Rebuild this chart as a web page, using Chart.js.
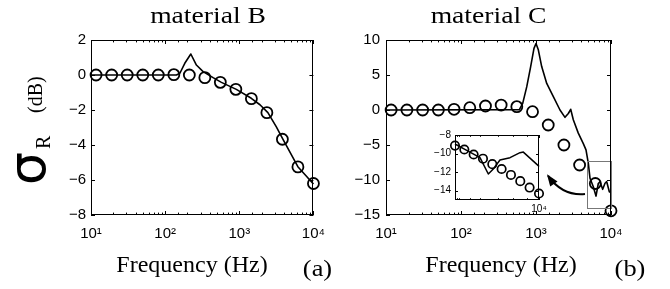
<!DOCTYPE html>
<html>
<head>
<meta charset="utf-8">
<script src="https://cdn.jsdelivr.net/npm/chart.js@4.4.0/dist/chart.umd.min.js"></script>
<style>
html, body { margin: 0; padding: 0; background: #fff; }
#wrap { position: relative; width: 670px; height: 289px; overflow: hidden; }
canvas { position: absolute; }
#chB { left: 0; top: 0; }
#chC { left: 335px; top: 0; }
#chIn { left: 420px; top: 125px; }
</style>
</head>
<body>
<div id="wrap">
  <canvas id="chB" width="335" height="289"></canvas>
  <canvas id="chC" width="335" height="289"></canvas>
  <canvas id="chIn" width="130" height="95"></canvas>
</div>
<script>
// circle (measured) frequencies, same for both materials
const freqCircles = [11.7, 19.0, 30.8, 49.9, 80.8, 131, 212, 343, 555, 899, 1456, 2356, 3814, 6176, 10000];

// material B
const circlesB = [0, 0, 0, 0, 0, 0.02, 0, -0.15, -0.42, -0.82, -1.35, -2.15, -3.67, -5.25, -6.2];
const freqLineB = [10, 100, 142, 158, 184, 222, 264, 325, 443, 574, 912, 1452, 1900, 2431, 3148, 3870, 6166, 10000];
const lineB = [0, 0, 0, 0.1, 0.67, 1.2, 0.57, 0.19, -0.15, -0.42, -0.82, -1.33, -1.7, -2.15, -2.95, -3.67, -5.24, -6.23];

// material C
const circlesC = [0, 0, 0, 0, 0.1, 0.33, 0.57, 0.71, 0.48, -0.24, -2.14, -5.0, -7.86, -10.5, -14.4];
const freqLineC = [10, 600, 665, 752, 849, 940, 1000, 1074, 1191, 1390, 1703, 2089, 2436, 2697, 2901, 3143, 3664, 4274, 4642, 4980, 5250, 5808, 6310, 6770, 7130, 7745, 8318, 8770, 9500, 10000];
const lineC = [0, 0.05, 0.95, 3.3, 6.2, 8.8, 9.5, 8.6, 6.2, 3.8, 1.9, 0, -1.05, -0.5, 0.1, -1.4, -3.3, -4.8, -5.7, -7.6, -9.76, -10.96, -12.3, -10.5, -10.24, -11.33, -10.47, -10.24, -11.67, -11.8];

// inset (zoom of 5-10 kHz for material C)
const freqInset = [4830, 5237, 5677, 6155, 6673, 7234, 7843, 8503, 9218, 10000];
const circlesInset = [-9.14, -9.56, -10.1, -10.55, -11.14, -11.66, -12.3, -12.97, -13.66, -14.3];
const freqInsetLine = [4830, 5346, 5998, 6446, 6729, 7131, 7780, 8484, 8730, 9935, 10000];
const lineInset = [-8.97, -9.66, -10.44, -12.2, -11.66, -10.7, -10.44, -9.9, -9.84, -11.3, -11.4];

const ticksB = [2, 0, -2, -4, -6, -8];
const ticksC = [10, 5, 0, -5, -10, -15];
const ticksInset = [-8, -10, -12, -14];

// box around the zoomed region + arrow, in data units of chart C
const zoomBoxX = [4830, 10000];
const zoomBoxY = [-7.3, -14.05];
const arrowPath = [[4500, -12], [2250, -12.3], [1450, -9.4]];

const sup = {1: '\u00b9', 2: '\u00b2', 3: '\u00b3', 4: '\u2074'};
const serif = '"Liberation Serif", "Times New Roman", serif';
const sans = '"Liberation Sans", Arial, sans-serif';

function pts(xs, ys) { return xs.map((x, i) => ({x: x, y: ys[i]})); }
function isDecade(v) { const e = Math.log10(v); return Math.abs(e - Math.round(e)) < 1e-9; }
function decadeLabel(v) { return isDecade(v) ? '10' + sup[Math.round(Math.log10(v))] : ''; }
function minusLabel(v) { return v < 0 ? '\u2212' + Math.abs(v) : String(v); }

// matlab style frame: full box, ticks pointing inwards on all four sides
const matlabBox = {
    id: 'matlabBox',
    beforeDraw(chart, args, opts) {
        if (!opts.fill) return;
        const a = chart.chartArea, ctx = chart.ctx;
        ctx.save();
        ctx.fillStyle = '#fff';
        ctx.fillRect(a.left, a.top, a.right - a.left, a.bottom - a.top);
        ctx.restore();
    },
    afterDraw(chart, args, opts) {
        const ctx = chart.ctx, a = chart.chartArea;
        const sx = chart.scales.x, sy = chart.scales.y;
        const L = opts.len || 4;
        ctx.save();
        ctx.strokeStyle = '#000';
        ctx.lineWidth = 1;
        ctx.beginPath();
        sx.ticks.forEach(t => {
            if (t.value < sx.min * 0.999 || t.value > sx.max * 1.001) return;
            const p = Math.round(sx.getPixelForValue(t.value)) + 0.5;
            const l = isDecade(t.value) ? L : L * 0.6;
            ctx.moveTo(p, a.bottom); ctx.lineTo(p, a.bottom - l);
            ctx.moveTo(p, a.top); ctx.lineTo(p, a.top + l);
        });
        sy.ticks.forEach(t => {
            const p = Math.round(sy.getPixelForValue(t.value)) + 0.5;
            ctx.moveTo(a.left, p); ctx.lineTo(a.left + L, p);
            ctx.moveTo(a.right, p); ctx.lineTo(a.right - L, p);
        });
        ctx.stroke();
        ctx.strokeRect(Math.round(a.left) + 0.5, Math.round(a.top) + 0.5,
            Math.round(a.right - a.left) - 1, Math.round(a.bottom - a.top) - 1);
        ctx.restore();
    }
};

// free text (titles, axis names, panel letters)
const texts = {
    id: 'texts',
    afterDraw(chart, args, opts) {
        const ctx = chart.ctx;
        (opts.items || []).forEach(it => {
            ctx.save();
            ctx.font = it.font;
            ctx.fillStyle = '#000';
            ctx.textAlign = it.align || 'center';
            ctx.textBaseline = 'alphabetic';
            ctx.translate(it.x, it.y);
            if (it.rot) ctx.rotate(it.rot);
            ctx.scale(it.sx || 1, 1);
            ctx.fillText(it.text, 0, 0);
            ctx.restore();
        });
    }
};

// zoom box and curved arrow on material C
const zoomMarks = {
    id: 'zoomMarks',
    afterDatasetsDraw(chart) {
        const ctx = chart.ctx, sx = chart.scales.x, sy = chart.scales.y;
        ctx.save();
        ctx.strokeStyle = '#777';
        ctx.lineWidth = 1;
        const x0 = Math.round(sx.getPixelForValue(zoomBoxX[0])) + 0.5;
        const x1 = Math.round(sx.getPixelForValue(zoomBoxX[1])) + 0.5;
        const y0 = Math.round(sy.getPixelForValue(zoomBoxY[0])) + 0.5;
        const y1 = Math.round(sy.getPixelForValue(zoomBoxY[1])) + 0.5;
        ctx.strokeRect(x0, y0, x1 - x0, y1 - y0);
        const p = arrowPath.map(d => [sx.getPixelForValue(d[0]), sy.getPixelForValue(d[1])]);
        ctx.strokeStyle = '#000';
        ctx.lineWidth = 2;
        ctx.beginPath();
        ctx.moveTo(p[0][0], p[0][1]);
        ctx.quadraticCurveTo(p[1][0], p[1][1], p[2][0], p[2][1]);
        ctx.stroke();
        const ang = Math.atan2(p[2][1] - p[1][1], p[2][0] - p[1][0]);
        const hl = 10, hw = 4.5;
        ctx.fillStyle = '#000';
        ctx.beginPath();
        ctx.moveTo(p[2][0] + Math.cos(ang) * 2, p[2][1] + Math.sin(ang) * 2);
        ctx.lineTo(p[2][0] - Math.cos(ang) * hl + Math.sin(ang) * hw, p[2][1] - Math.sin(ang) * hl - Math.cos(ang) * hw);
        ctx.lineTo(p[2][0] - Math.cos(ang) * hl - Math.sin(ang) * hw, p[2][1] - Math.sin(ang) * hl + Math.cos(ang) * hw);
        ctx.closePath();
        ctx.fill();
        ctx.restore();
    }
};

function datasets(fl, yl, fc, yc, r, bw) {
    return [{
        data: pts(fl, yl), showLine: true, borderColor: '#000', borderWidth: bw,
        pointRadius: 0, tension: 0, borderJoinStyle: 'round', clip: false
    }, {
        data: pts(fc, yc), showLine: false, pointRadius: r, pointBorderWidth: bw + 0.2,
        pointBorderColor: '#000', pointBackgroundColor: 'rgba(0,0,0,0)', clip: false
    }];
}

function scales(xMin, xMax, yMin, yMax, yTicks, size, pad, yW, xH) {
    return {
        x: {
            type: 'logarithmic', min: xMin, max: xMax,
            grid: { display: false, drawTicks: false }, border: { display: false },
            afterFit: s => { s.height = xH; },
            ticks: { autoSkip: false, maxRotation: 0, padding: pad.x, color: '#000',
                font: { family: sans, size: size }, callback: v => decadeLabel(v) }
        },
        y: {
            type: 'linear', min: yMin, max: yMax,
            grid: { display: false, drawTicks: false }, border: { display: false },
            afterFit: s => { s.width = yW; },
            afterBuildTicks: s => { s.ticks = yTicks.map(v => ({value: v})); },
            ticks: { padding: pad.y, color: '#000', font: { family: sans, size: size },
                callback: v => minusLabel(v) }
        }
    };
}

Chart.defaults.animation = false;

new Chart(document.getElementById('chB'), {
    type: 'scatter',
    data: { datasets: datasets(freqLineB, lineB, freqCircles, circlesB, 5.5, 1.6) },
    plugins: [matlabBox, texts],
    options: {
        responsive: false,
        layout: { padding: { left: 51, top: 40, right: 21, bottom: 44 } },
        scales: scales(10, 10000, -8, 2, ticksB, 15, {x: 10, y: 5}, 40, 30),
        plugins: {
            legend: { display: false }, tooltip: { enabled: false },
            matlabBox: { len: 4 },
            texts: { items: [
                { text: 'material B', x: 208, y: 23, font: '24px ' + serif, sx: 1.15 },
                { text: 'Frequency (Hz)', x: 192, y: 272, font: '24px ' + serif, sx: 1.0 },
                { text: '(a)', x: 317.5, y: 276, font: '24px ' + serif, sx: 1.1 },
                { text: '\u03c3', x: 45, y: 185, font: '52px "DejaVu Sans", sans-serif', align: 'left', rot: -Math.PI / 2 },
                { text: 'R', x: 50, y: 149, font: '20px ' + serif, align: 'left', rot: -Math.PI / 2 },
                { text: '(dB)', x: 42, y: 113, font: '20px ' + serif, align: 'left', rot: -Math.PI / 2 }
            ] }
        }
    }
});

new Chart(document.getElementById('chC'), {
    type: 'scatter',
    data: { datasets: datasets(freqLineC, lineC, freqCircles, circlesC, 5.5, 1.6) },
    plugins: [matlabBox, texts, zoomMarks],
    options: {
        responsive: false,
        layout: { padding: { left: 11, top: 40, right: 59, bottom: 44 } },
        scales: scales(10, 10000, -15, 10, ticksC, 15, {x: 10, y: 6}, 40, 30),
        plugins: {
            legend: { display: false }, tooltip: { enabled: false },
            matlabBox: { len: 4 },
            texts: { items: [
                { text: 'material C', x: 153.5, y: 23, font: '24px ' + serif, sx: 1.15 },
                { text: 'Frequency (Hz)', x: 166, y: 272, font: '24px ' + serif, sx: 1.0 },
                { text: '(b)', x: 295, y: 276, font: '24px ' + serif, sx: 1.1 }
            ] }
        }
    }
});

new Chart(document.getElementById('chIn'), {
    type: 'scatter',
    data: { datasets: datasets(freqInsetLine, lineInset, freqInset, circlesInset, 4.2, 1.5) },
    plugins: [matlabBox],
    options: {
        responsive: false,
        layout: { padding: { left: 5, top: 9, right: 11, bottom: 6 } },
        scales: scales(4830, 10000, -15, -8, ticksInset, 10, {x: 3, y: 4}, 30, 14),
        plugins: {
            legend: { display: false }, tooltip: { enabled: false },
            matlabBox: { len: 3, fill: true }
        }
    }
});
</script>
</body>
</html>
